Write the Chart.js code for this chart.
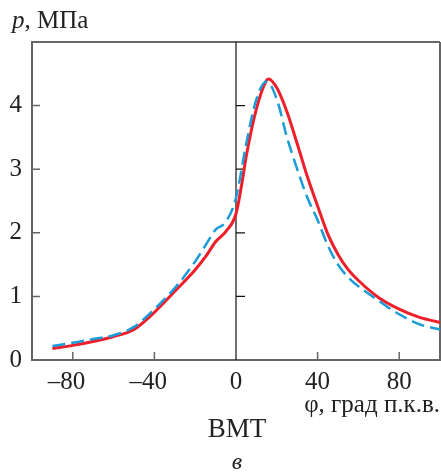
<!DOCTYPE html>
<html>
<head>
<meta charset="utf-8">
<script src="https://cdn.jsdelivr.net/npm/chart.js@4/dist/chart.umd.min.js"></script>
<style>
  html, body { margin: 0; padding: 0; background: #fff; }
  #wrap { width: 441px; height: 474px; }
</style>
</head>
<body>
<div id="wrap"><canvas id="c" width="441" height="474"></canvas></div>
<script>
// crank angle, deg (p.k.v.) and cylinder pressure, MPa
const phiRed = [-90, -80, -70, -60, -50, -40, -30, -20, -15, -10, -5, 0, 3, 5, 10, 15, 16, 20, 25, 30, 35, 40, 45, 50, 55, 60, 70, 80, 90, 100];
const pRed   = [0.18, 0.23, 0.29, 0.37, 0.48, 0.75, 1.08, 1.42, 1.62, 1.86, 2.02, 2.3, 2.8, 3.2, 3.95, 4.4, 4.42, 4.28, 3.9, 3.4, 2.88, 2.42, 1.98, 1.66, 1.42, 1.25, 0.98, 0.8, 0.67, 0.59];

const phiBlue = [-90, -80, -70, -60, -50, -40, -30, -20, -15, -10, -5, 0, 5, 10, 15, 20, 25, 30, 35, 40, 45, 50, 55, 60, 70, 80, 90, 100];
const pBlue   = [0.22, 0.27, 0.33, 0.39, 0.52, 0.8, 1.13, 1.55, 1.8, 2.05, 2.17, 2.55, 3.4, 4.1, 4.38, 4.1, 3.5, 3.0, 2.55, 2.2, 1.8, 1.5, 1.3, 1.16, 0.93, 0.72, 0.56, 0.48];

const xTicks = [-80, -40, 0, 40, 80];
const yTicks = [0, 1, 2, 3, 4];

const toPoints = (xs, ys) => xs.map((x, i) => ({ x: x, y: ys[i] }));

const AXIS = '#666666';
const SERIF = '"Liberation Serif", "DejaVu Serif", serif';

// frame, inward ticks, TDC line and captions
const decor = {
  id: 'decor',
  beforeDatasetsDraw(chart) {
    const { ctx, chartArea: a, scales: { x, y } } = chart;
    ctx.save();
    ctx.strokeStyle = AXIS;
    ctx.lineWidth = 2;
    ctx.beginPath();
    ctx.moveTo(a.left, a.top); ctx.lineTo(a.right, a.top);
    ctx.moveTo(a.right, a.top); ctx.lineTo(a.right, a.bottom);
    ctx.stroke();

    ctx.lineWidth = 1.5;
    ctx.beginPath();
    yTicks.slice(1).forEach(v => {
      const py = y.getPixelForValue(v);
      ctx.moveTo(a.left, py); ctx.lineTo(a.left + 8, py);
    });
    xTicks.forEach(v => {
      if (v === 0) return;
      const px = x.getPixelForValue(v);
      ctx.moveTo(px, a.bottom); ctx.lineTo(px, a.bottom - 8);
    });
    ctx.stroke();

    const x0 = x.getPixelForValue(0);
    ctx.strokeStyle = '#111';
    ctx.lineWidth = 1.2;
    ctx.beginPath();
    ctx.moveTo(x0, a.top); ctx.lineTo(x0, a.bottom);
    yTicks.slice(1).forEach(v => {
      const py = y.getPixelForValue(v);
      ctx.moveTo(x0, py); ctx.lineTo(x0 + 9, py);
    });
    ctx.stroke();
    ctx.restore();
  },
  afterDraw(chart) {
    const { ctx, chartArea: a, scales: { x } } = chart;
    const x0 = x.getPixelForValue(0);
    ctx.save();
    ctx.fillStyle = '#222';
    ctx.textBaseline = 'alphabetic';

    ctx.textAlign = 'left';
    ctx.font = 'italic 25px ' + SERIF;
    ctx.fillText('p', 12, 28);
    const pw = ctx.measureText('p').width;
    ctx.font = '25px ' + SERIF;
    ctx.fillText(', МПа', 12 + pw, 28);

    ctx.textAlign = 'right';
    ctx.font = '25px ' + SERIF;
    ctx.fillText('φ, град п.к.в.', a.right, 412);

    ctx.textAlign = 'center';
    ctx.font = '27px ' + SERIF;
    ctx.fillText('ВМТ', x0 + 1, 437);
    ctx.font = 'italic 24px ' + SERIF;
    ctx.fillText('в', x0 + 1, 469);
    ctx.restore();
  }
};

new Chart(document.getElementById('c'), {
  type: 'line',
  data: {
    datasets: [
      {
        label: 'blue',
        data: toPoints(phiBlue, pBlue),
        borderColor: '#1b9bd8',
        borderWidth: 2.5,
        borderDash: [13, 6],
        pointRadius: 0,
        fill: false,
        cubicInterpolationMode: 'monotone'
      },
      {
        label: 'red',
        data: toPoints(phiRed, pRed),
        borderColor: '#ee1f2a',
        borderWidth: 3,
        pointRadius: 0,
        fill: false,
        cubicInterpolationMode: 'monotone'
      }
    ]
  },
  options: {
    responsive: false,
    animation: false,
    layout: { padding: { left: 0, top: 42, right: 1, bottom: 0 } },
    plugins: { legend: { display: false }, tooltip: { enabled: false } },
    scales: {
      x: {
        type: 'linear',
        min: -100,
        max: 100,
        afterBuildTicks: s => { s.ticks = xTicks.map(v => ({ value: v })); },
        afterFit: s => { s.height = 114; },
        grid: { display: false, drawTicks: false },
        border: { display: true, color: AXIS, width: 2 },
        ticks: {
          padding: 7,
          color: '#222',
          font: { family: SERIF, size: 25 },
          maxRotation: 0,
          callback: v => v < 0 ? '–' + Math.abs(v) + '\u2002' : String(v)
        }
      },
      y: {
        min: 0,
        max: 5,
        afterBuildTicks: s => { s.ticks = yTicks.map(v => ({ value: v })); },
        afterFit: s => { s.width = 32; },
        grid: { display: false, drawTicks: false },
        border: { display: true, color: AXIS, width: 2 },
        ticks: {
          padding: 10,
          color: '#222',
          font: { family: SERIF, size: 25 }
        }
      }
    }
  },
  plugins: [decor]
});
</script>
</body>
</html>
